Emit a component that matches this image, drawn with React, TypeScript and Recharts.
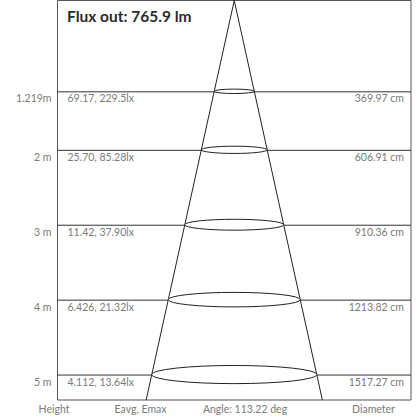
import * as React from "react"
import {
  ComposedChart,
  Line,
  Scatter,
  XAxis,
  YAxis,
  ReferenceLine,
  ReferenceArea,
} from "recharts"

// mounting heights (m) and their labels
const heights = [1.219, 2, 3, 4, 5]
const heightLabels = ["1.219m", "2 m", "3 m", "4 m", "5 m"]
// Eavg, Emax per height
const illuminance = ["69.17, 229.5lx", "25.70, 85.28lx", "11.42, 37.90lx", "6.426, 21.32lx", "4.112, 13.64lx"]
// beam diameter (cm) per height
const diameters = [369.97, 606.91, 910.36, 1213.82, 1517.27]

const FLUX = "Flux out: 765.9 lm"
const BEAM_ANGLE = "Angle: 113.22 deg"
const footer = ["Height", "Eavg, Emax", BEAM_ANGLE, "Diameter"]

// cone outline: half-diameter (cm) at the bottom of the frame
const coneX = [-810, 0, 810]

const W = 417
const H = 419
const MARGIN = { top: 0.5, right: 6, bottom: 19, left: 57.5 }
const PLOT_W = W - MARGIN.left - MARGIN.right
const X_HALF = 1625
const Y_MAX = 5.333
const PX_PER_CM = PLOT_W / (2 * X_HALF)

const FONT = "Lato, 'Open Sans', sans-serif"
const GREY = "#7a7a7a"

const coneData = coneX.map((x) => ({ x, y: x === 0 ? 0 : Y_MAX }))
const levelData = heights.map((h, i) => ({ x: 0, y: h, d: diameters[i] }))

function Ellipse(props: any) {
  const { cx, cy, payload } = props
  const rx = (payload.d / 2) * PX_PER_CM
  return <ellipse cx={cx} cy={cy - 0.5} rx={rx} ry={rx * 0.11} fill="#fff" stroke="#222" strokeWidth={1} />
}

function rowLabel(i: number) {
  return (p: any) => {
    const { x, y, width } = p.viewBox
    return (
      <g fontFamily={FONT} fontSize={10.5} fill={GREY} fontWeight={400}>
        <text x={x - 6} y={y + 10.5} textAnchor="end">{heightLabels[i]}</text>
        <text x={x + 10} y={y + 10.5}>{illuminance[i]}</text>
        <text x={x + width - 7} y={y + 10.5} textAnchor="end">{diameters[i].toFixed(2)} cm</text>
      </g>
    )
  }
}

function frameLabel(p: any) {
  const { x, y, height } = p.viewBox
  const bottom = y + height
  const cxs = [54, 140.5, 245, 373.5]
  return (
    <g fontFamily={FONT}>
      <text x={x + 9.5} y={y + 21.5} fontSize={15.5} fontWeight={700} fill="#2a2a2a">{FLUX}</text>
      {footer.map((t, i) => (
        <text key={t} x={cxs[i]} y={bottom + 13} fontSize={10.5} fill={GREY} fontWeight={400} textAnchor="middle">
          {t}
        </text>
      ))}
    </g>
  )
}

export default function App() {
  return (
    <div style={{ position: "absolute", left: 0, top: 0, width: W, height: H, background: "#fff" }}>
      <ComposedChart width={W} height={H} margin={MARGIN}>
        <XAxis type="number" dataKey="x" domain={[-X_HALF, X_HALF]} hide />
        <YAxis type="number" dataKey="y" domain={[0, Y_MAX]} reversed hide />
        <ReferenceArea
          x1={-X_HALF}
          x2={X_HALF}
          y1={0}
          y2={Y_MAX}
          fill="none"
          fillOpacity={0}
          stroke="#555"
          strokeOpacity={1}
          label={frameLabel}
        />
        {heights.map((h, i) => (
          <ReferenceLine key={h} y={h} stroke="#333" strokeWidth={1} label={rowLabel(i)} />
        ))}
        <Line
          data={coneData}
          dataKey="y"
          stroke="#222"
          strokeWidth={1}
          dot={false}
          activeDot={false}
          isAnimationActive={false}
        />
        <Scatter data={levelData} dataKey="y" shape={Ellipse} isAnimationActive={false} />
      </ComposedChart>
    </div>
  )
}
